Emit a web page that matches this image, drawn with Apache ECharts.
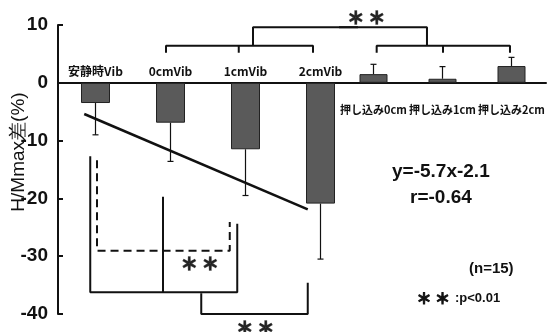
<!DOCTYPE html>
<html><head><meta charset="utf-8">
<script src="https://cdn.jsdelivr.net/npm/echarts@6/dist/echarts.min.js"></script>
<style>html,body{margin:0;padding:0;background:#fff}#c{width:547px;height:332px}</style>
</head><body><div id="c"></div>
<script>
// ---- data ----
const categoriesVib = ['安静時Vib', '0cmVib', '1cmVib', '2cmVib'];
const valuesVib = [-3.5, -6.9, -11.5, -20.9];
const sdVib = [5.5, 6.7, 8.0, 9.6];
const categoriesPush = ['押し込み0cm', '押し込み1cm', '押し込み2cm'];
const valuesPush = [1.5, 0.7, 2.9];
const sdPush = [1.7, 2.1, 1.5];
const yMin = -40, yMax = 10, yStep = 10;
const yTitle = 'H/Mmax差(%)';
// regression line (x in category position units, y in %)
const regressionX = [-0.15, 2.83];
const regressionY = [-5.4, -21.9];
const regressionText = 'y=-5.7x-2.1';
const rText = 'r=-0.64';
const nText = '(n=15)';
const sigText = '＊ ＊';
const sigNote = ':p<0.01';

// ---- annotation geometry (category-position units of each panel, %) ----
const bracketsVibPanel = [
  [[0.94, 5.2], [0.94, 6.4], [2.9, 6.4], [2.9, 5.2]],
  [[1.91, 6.4], [1.91, 5.2]],
  [[2.1, 6.4], [2.1, 9.6], [3.5, 9.6]],
  [[-0.07, -12.7], [-0.07, -36.25], [1.89, -36.25], [1.89, -24.4]],
  [[0.90, -36.25], [0.90, -19.7]],
  [[1.41, -36.4], [1.41, -40], [2.83, -40], [2.83, -34.6]]
];
const bracketsPushPanel = [
  [[-0.5, 9.6], [0.775, 9.6], [0.775, 6.4]],
  [[0.046, 5.2], [0.046, 6.4], [1.978, 6.4], [1.978, 5.2]],
  [[1.007, 6.4], [1.007, 5.2]]
];
const bracketDashed = [[0.02, -13.4], [0.02, -29.05], [1.79, -29.05], [1.79, -24.1]];
const starMarks = [[3.61, 11.3], [1.39, -31.2], [2.13, -42.3]];

const NARROW = '"Liberation Sans Narrow", "Liberation Sans", Arial, sans-serif';
const CJK = '"Noto Sans CJK JP", "Liberation Sans", sans-serif';

function errorSeries(xi, yi, vals, sds) {
  return {
    type: 'custom', xAxisIndex: xi, yAxisIndex: yi, z: 3, silent: true,
    data: vals.map((v, i) => [i, v, v + Math.sign(v) * sds[i]]),
    renderItem(params, api) {
      const x = api.value(0);
      const a = api.coord([x, api.value(1)]);
      const b = api.coord([x, api.value(2)]);
      const hw = 3;
      return { type: 'group', children: [
        { type: 'line', shape: { x1: a[0], y1: a[1], x2: b[0], y2: b[1] }, style: { stroke: '#111', lineWidth: 1.2 } },
        { type: 'line', shape: { x1: b[0] - hw, y1: b[1], x2: b[0] + hw, y2: b[1] }, style: { stroke: '#111', lineWidth: 1.2 } }
      ] };
    }
  };
}
function categoryLabelSeries(xi, yi, cats, dy, size) {
  return {
    type: 'custom', xAxisIndex: xi, yAxisIndex: yi, z: 5, silent: true, clip: false,
    data: cats.map((c, i) => [i, 0]),
    renderItem(params, api) {
      const p = api.coord([api.value(0), 0]);
      return { type: 'text', x: p[0], y: p[1] + dy,
        style: { text: cats[params.dataIndex], font: 'bold ' + size + 'px ' + CJK,
          fill: '#111', align: 'center', verticalAlign: 'middle' } };
    }
  };
}
function bracketLine(xi, yi, pts, dashed) {
  return { type: 'line', xAxisIndex: xi, yAxisIndex: yi, symbol: 'none', clip: false, silent: true,
    data: pts, lineStyle: { color: '#111', width: 2, type: dashed ? [8, 5] : 'solid' } };
}

const series = [
  { type: 'bar', xAxisIndex: 0, yAxisIndex: 0, data: valuesVib, barWidth: 29,
    itemStyle: { color: '#5a5a5a', borderColor: '#222', borderWidth: 1 }, z: 2 },
  { type: 'bar', xAxisIndex: 1, yAxisIndex: 1, data: valuesPush, barWidth: 28,
    itemStyle: { color: '#5a5a5a', borderColor: '#222', borderWidth: 1 }, z: 2 },
  errorSeries(0, 0, valuesVib, sdVib),
  errorSeries(1, 1, valuesPush, sdPush),
  categoryLabelSeries(0, 0, categoriesVib, -11.5, 12),
  categoryLabelSeries(1, 1, categoriesPush, 27, 11),
  { type: 'line', xAxisIndex: 2, yAxisIndex: 0, symbol: 'none', clip: false, z: 4,
    data: regressionX.map((x, i) => [x, regressionY[i]]),
    lineStyle: { color: '#111', width: 2.6 } }
];
bracketsVibPanel.forEach(p => series.push(bracketLine(2, 0, p, false)));
bracketsPushPanel.forEach(p => series.push(bracketLine(3, 1, p, false)));
series.push(bracketLine(2, 0, bracketDashed, true));
series.push({
  type: 'scatter', xAxisIndex: 2, yAxisIndex: 0, symbolSize: 0, clip: false, silent: true,
  data: starMarks,
  label: { show: true, position: 'inside', formatter: sigText,
    fontFamily: CJK, fontSize: 17, fontWeight: 'bold', color: '#111',
    textBorderColor: '#111', textBorderWidth: 1.4 }
});

const chart = echarts.init(document.getElementById('c'), null, { renderer: 'canvas' });
chart.setOption({
  animation: false,
  backgroundColor: '#fff',
  grid: [
    { left: 58, top: 25, width: 300, height: 289, containLabel: false, outerBoundsMode: 'none' },
    { left: 339, top: 25, width: 207, height: 289, containLabel: false, outerBoundsMode: 'none' }
  ],
  xAxis: [
    { type: 'category', gridIndex: 0, data: categoriesVib, position: 'top',
      axisLine: { onZero: true, lineStyle: { color: '#111', width: 2 } },
      axisTick: { show: false }, axisLabel: { show: false } },
    { type: 'category', gridIndex: 1, data: categoriesPush, position: 'bottom',
      axisLine: { onZero: true, lineStyle: { color: '#111', width: 2 } },
      axisTick: { show: false }, axisLabel: { show: false } },
    { type: 'value', gridIndex: 0, min: -0.5, max: 3.5, show: false },
    { type: 'value', gridIndex: 1, min: -0.5, max: 2.5, show: false }
  ],
  yAxis: [
    { type: 'value', gridIndex: 0, min: yMin, max: yMax, interval: yStep,
      axisLine: { show: true, onZero: false, lineStyle: { color: '#111', width: 2 } },
      axisTick: { show: true, inside: true, length: 5, lineStyle: { color: '#111', width: 2 } },
      axisLabel: { margin: 10, fontFamily: NARROW, fontSize: 19, fontWeight: 'bold', color: '#111' },
      splitLine: { show: false } },
    { type: 'value', gridIndex: 1, min: yMin, max: yMax, interval: yStep, show: false,
      axisLine: { onZero: false }, splitLine: { show: false } }
  ],
  graphic: [
    { type: 'text', x: 19, y: 152, rotation: Math.PI / 2, z: 10,
      style: { text: yTitle, font: '19px ' + NARROW, fill: '#111', align: 'center', verticalAlign: 'middle' } },
    { type: 'text', left: 392, top: 162, style: { text: regressionText, font: 'bold 19px ' + NARROW, fill: '#111' } },
    { type: 'text', left: 410, top: 188, style: { text: rText, font: 'bold 19px ' + NARROW, fill: '#111' } },
    { type: 'text', left: 469, top: 261, style: { text: nText, font: 'bold 15px ' + NARROW, fill: '#111' } },
    { type: 'text', left: 416, top: 290, style: { text: sigText, font: 'bold 15px ' + CJK, fill: '#111', stroke: '#111', lineWidth: 1.1 } },
    { type: 'text', left: 455, top: 292, style: { text: sigNote, font: 'bold 13px ' + NARROW, fill: '#111' } }
  ],
  series
});
</script></body></html>
